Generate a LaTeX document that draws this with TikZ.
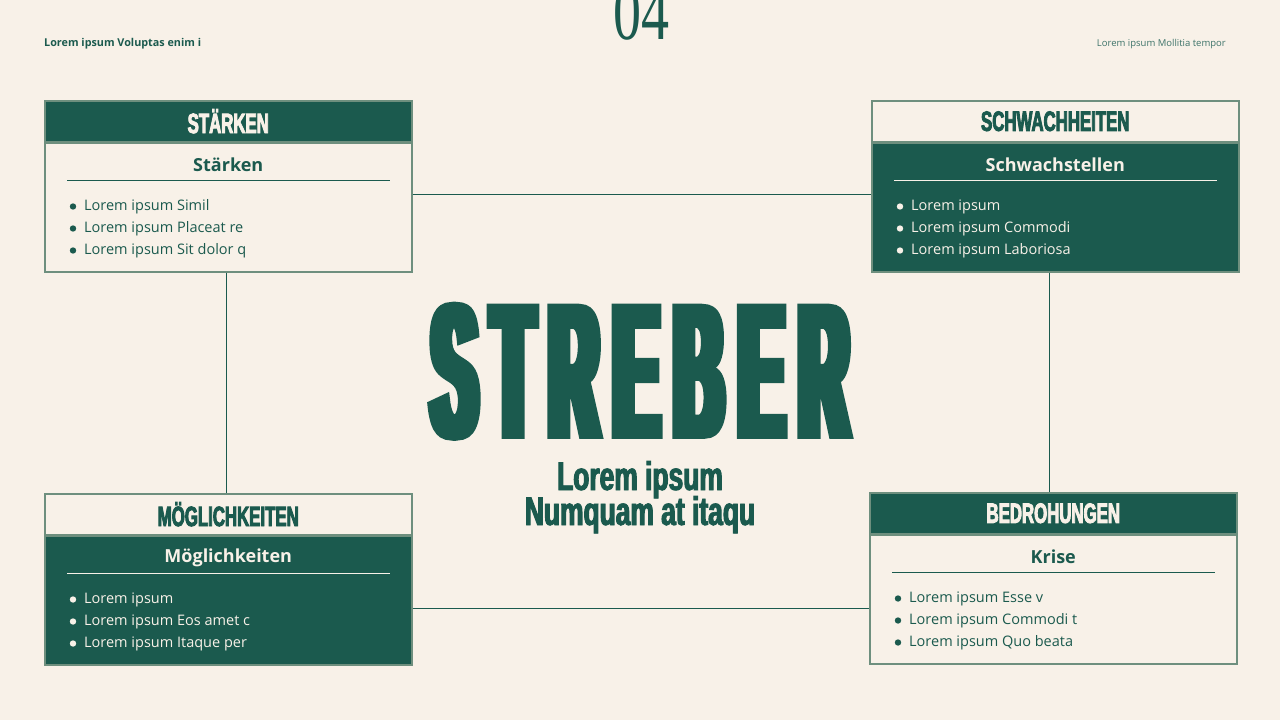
\documentclass[tikz,border=0pt]{standalone}
\usepackage{fontspec}
\setmainfont{Open Sans}
\newfontfamily\headfont[FakeStretch=0.6,FakeBold=3]{Liberation Sans}
\newfontfamily\titlefont[FakeStretch=0.1,FakeBold=2]{Liberation Sans}
\newfontfamily\subfont[FakeStretch=0.33,FakeBold=1.5]{Liberation Sans}
\newfontfamily\numfont[FakeStretch=0.7]{Liberation Serif}
\usetikzlibrary{positioning}
\definecolor{cream}{HTML}{F8F1E8}
\definecolor{pine}{HTML}{1B5A4E}
\definecolor{frame}{HTML}{6E8F7E}
\begin{document}
\begin{tikzpicture}[x=1pt,y=-1pt,
    box/.style={draw=frame,line width=1.5pt,minimum width=367pt,inner sep=0pt,anchor=north west},
    headbox/.style={box,minimum height=41pt,font=\headfont\bfseries\fontsize{28}{28}\selectfont},
    bodybox/.style={box,minimum height=128.5pt},
    dark/.style={fill=pine,text=cream},
    light/.style={fill=cream,text=pine},
    subtitle/.style={inner sep=0pt,font=\bfseries\fontsize{18}{18}\selectfont},
    item/.style={inner sep=0pt,anchor=west,font=\fontsize{14.5}{14.5}\selectfont},
    link/.style={draw=pine,line width=1.2pt}]
  \useasboundingbox (0,0) rectangle (1280,720);
  \fill[cream] (0,0) rectangle (1280,720);

  % top line
  \node[anchor=base west,inner sep=0pt,text=pine,font=\bfseries\fontsize{10.8}{10.8}\selectfont] (lefttag) at (44,46) {Lorem ipsum Voluptas enim i};
  \node[anchor=base east,inner sep=0pt,text=pine!85,font=\fontsize{9.5}{9.5}\selectfont] (righttag) at (1226,46) {Lorem ipsum Mollitia tempor};
  \node[anchor=base,inner sep=0pt,text=pine,font=\numfont\fontsize{80}{80}\selectfont] (pagenum) at (641,39) {04};

  % boxes
  \node[headbox,dark] (sh) at (44,100) {STÄRKEN};
  \node[bodybox,light] (sb) at (sh.south west) {};
  \node[headbox,light] (wh) at (871,100) {SCHWACHHEITEN};
  \node[bodybox,dark] (wb) at (wh.south west) {};
  \node[headbox,light] (oh) at (44,493) {MÖGLICHKEITEN};
  \node[bodybox,dark] (ob) at (oh.south west) {};
  \node[headbox,dark] (th) at (869,492) {BEDROHUNGEN};
  \node[bodybox,light] (tb) at (th.south west) {};

  % connectors
  \draw[link] ([yshift=-52pt]sb.north east) -- ([yshift=-52pt]sb.north east -| wh.west);
  \draw[link] ([xshift=-1.5pt]sb.south) -- ([xshift=-1.5pt]oh.north);
  \draw[link] ([xshift=-5.5pt]wb.south) -- ([xshift=-5.5pt]wb.south |- th.north);
  \draw[link] ([yshift=-73pt]ob.north east) -- ([yshift=-73pt]ob.north east -| tb.west);

  % strengths
  \path (sb.north) ++(0,22) node[subtitle,text=pine] (st) {Stärken};
  \draw[pine,line width=0.9pt] ([xshift=23pt,yshift=-38pt]sb.north west) -- ([xshift=-23pt,yshift=-38pt]sb.north east);
  \foreach \t [count=\i] in {Lorem ipsum Simil,Lorem ipsum Placeat re,Lorem ipsum Sit dolor q}
    \fill[pine] ([xshift=29pt,yshift={-42pt-22pt*\i}]sb.north west) circle (3.2pt) node[item,text=pine,right=11pt] (si\i) {\t};

  % weaknesses
  \path (wb.north) ++(0,22) node[subtitle,text=cream] (wt) {Schwachstellen};
  \draw[cream,line width=0.9pt] ([xshift=23pt,yshift=-38pt]wb.north west) -- ([xshift=-23pt,yshift=-38pt]wb.north east);
  \foreach \t [count=\i] in {Lorem ipsum,Lorem ipsum Commodi,Lorem ipsum Laboriosa}
    \fill[cream] ([xshift=29pt,yshift={-42pt-22pt*\i}]wb.north west) circle (3.2pt) node[item,text=cream,right=11pt] (wi\i) {\t};

  % opportunities
  \path (ob.north) ++(0,22) node[subtitle,text=cream] (ot) {Möglichkeiten};
  \draw[cream,line width=0.9pt] ([xshift=23pt,yshift=-38pt]ob.north west) -- ([xshift=-23pt,yshift=-38pt]ob.north east);
  \foreach \t [count=\i] in {Lorem ipsum,Lorem ipsum Eos amet c,Lorem ipsum Itaque per}
    \fill[cream] ([xshift=29pt,yshift={-42pt-22pt*\i}]ob.north west) circle (3.2pt) node[item,text=cream,right=11pt] (oi\i) {\t};

  % threats
  \path (tb.north) ++(0,22) node[subtitle,text=pine] (tt) {Krise};
  \draw[pine,line width=0.9pt] ([xshift=23pt,yshift=-38pt]tb.north west) -- ([xshift=-23pt,yshift=-38pt]tb.north east);
  \foreach \t [count=\i] in {Lorem ipsum Esse v,Lorem ipsum Commodi t,Lorem ipsum Quo beata}
    \fill[pine] ([xshift=29pt,yshift={-42pt-22pt*\i}]tb.north west) circle (3.2pt) node[item,text=pine,right=11pt] (ti\i) {\t};

  % centre title
  \node[anchor=base,inner sep=0pt,xscale=3.5,text=pine,font=\titlefont\bfseries\fontsize{191}{191}\selectfont] (streber) at (640,437)
    {S\kern4.6pt T\kern4.6pt R\kern4.6pt E\kern4.6pt B\kern4.6pt E\kern4.6pt R};
  \node[anchor=base,inner sep=0pt,xscale=2,text=pine,font=\subfont\bfseries\fontsize{40}{40}\selectfont] (sub1) at (640,490) {Lorem ipsum};
  \node[anchor=base,inner sep=0pt,xscale=2,text=pine,font=\subfont\bfseries\fontsize{40}{40}\selectfont] (sub2) at (640,525) {Numquam at itaqu};
\end{tikzpicture}
\end{document}
